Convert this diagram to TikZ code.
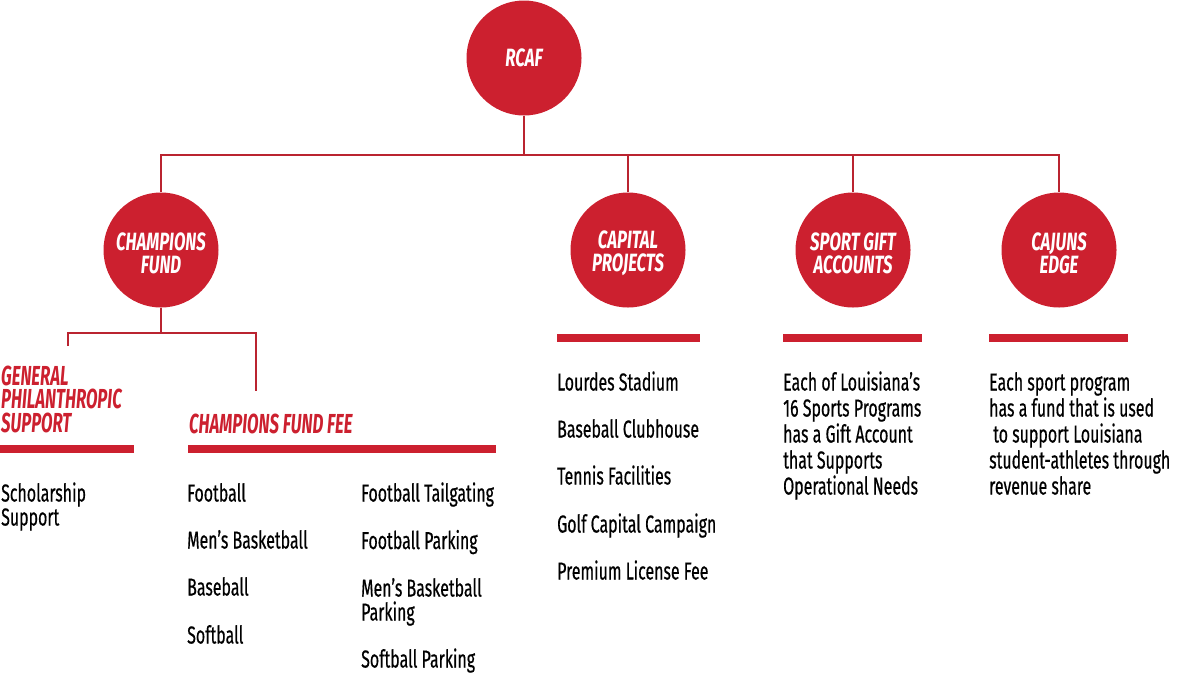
\documentclass[tikz,border=0pt]{standalone}
\usepackage{fontspec}
\newfontfamily\bodyfont[FakeStretch=0.65,FakeBold=0.5]{Fira Sans}
\newfontfamily\headfont[FakeStretch=0.61]{Fira Sans}
\newfontfamily\circfont[FakeStretch=0.67]{Fira Sans}
\definecolor{rcred}{RGB}{204,32,47}
\definecolor{rcline}{RGB}{186,36,48}
\begin{document}
\begin{tikzpicture}[x=1pt,y=-1pt,
  circ/.style={circle,fill=rcred,minimum size=115pt,inner sep=0pt},
  ctext/.style={text=white,inner sep=0pt,
    font=\circfont\bfseries\itshape\fontsize{25}{23}\selectfont,align=center},
  conn/.style={draw=rcline,line width=2pt},
  bar/.style={fill=rcred},
  body/.style={anchor=base west,inner sep=0pt,text height=18pt,text depth=5pt,
    font=\bodyfont\fontsize{24.5}{26}\selectfont,text=black},
  head/.style={inner sep=0pt,
    font=\headfont\bfseries\itshape\fontsize{27.5}{23.5}\selectfont,text=rcred}]
\useasboundingbox (0,0) rectangle (1177,675);
% circles
\node[circ,label={[ctext]center:RCAF}] (rcaf) at (524,58) {};
\node[circ,label={[ctext,yshift=-3pt]center:{CHAMPIONS\\FUND}}] (cf) at (161,250) {};
\node[circ,label={[ctext,yshift=-3pt]center:{CAPITAL\\PROJECTS}}] (cp) at (628,250) {};
\node[circ,label={[ctext,yshift=-3pt]center:{SPORT GIFT\\ACCOUNTS}}] (sg) at (853,250) {};
\node[circ,label={[ctext,yshift=-3pt]center:{CAJUNS\\EDGE}}] (ce) at (1059,250) {};
% connectors
\coordinate (bus) at (0,155);
\coordinate (cfbus) at (0,333);
\coordinate (gpstop) at (68,346);
\coordinate (cfftop) at (256,391);
\draw[conn] (rcaf.south) -- (rcaf.south |- bus);
\draw[conn] (cf.north) |- (ce.north |- bus) -- (ce.north);
\draw[conn] (cp.north) -- (cp.north |- bus);
\draw[conn] (sg.north) -- (sg.north |- bus);
\draw[conn] (cf.south) -- (cf.south |- cfbus);
\draw[conn] (gpstop) |- (cfftop |- cfbus) -- (cfftop);
% bars
\fill[bar] (0,445) rectangle (134,453);
\fill[bar] (188,445) rectangle (496,453);
\fill[bar] (557,334) rectangle (700,342);
\fill[bar] (783,334) rectangle (922,342);
\fill[bar] (989,334) rectangle (1128,342);
% headings
\node[head,align=left,anchor=south west] (gps) at (1,433) {GENERAL\\PHILANTHROPIC\\SUPPORT};
\node[head,anchor=base west] (cff) at (189,433) {CHAMPIONS FUND FEE};
% general support items
\node[body] (ss1) at (1,501.5) {Scholarship};
\node[body] (ss2) at (1,525.5) {Support};
% champions fund fee col 1
\node[body] (f1) at (187,501.5) {Football};
\node[body] (f2) at (187,548.5) {Men’s Basketball};
\node[body] (f3) at (187,595.5) {Baseball};
\node[body] (f4) at (187,643.5) {Softball};
% col 2
\node[body] (g1) at (361,501.5) {Football Tailgating};
\node[body] (g2) at (361,549) {Football Parking};
\node[body] (g3) at (361,596.5) {Men’s Basketball};
\node[body] (g3b) at (361,620.5) {Parking};
\node[body] (g4) at (361,667.5) {Softball Parking};
% capital projects
\node[body] (c1) at (557,390.5) {Lourdes Stadium};
\node[body] (c2) at (557,437.5) {Baseball Clubhouse};
\node[body] (c3) at (557,484.5) {Tennis Facilities};
\node[body] (c4) at (557,532.5) {Golf Capital Campaign};
\node[body] (c5) at (557,579.5) {Premium License Fee};
% sport gift
\node[body] (s1) at (783,390.5) {Each of Louisiana’s};
\node[body] (s2) at (783,416.5) {16 Sports Programs};
\node[body] (s3) at (783,442.5) {has a Gift Account};
\node[body] (s4) at (783,468.5) {that Supports};
\node[body] (s5) at (783,494.5) {Operational Needs};
% cajuns edge
\node[body] (e1) at (989,390.5) {Each sport program};
\node[body] (e2) at (989,416.5) {has a fund that is used};
\node[body] (e3) at (993,442.5) {to support Louisiana};
\node[body] (e4) at (989,468.5) {student-athletes through};
\node[body] (e5) at (989,494.5) {revenue share};
\end{tikzpicture}
\end{document}
